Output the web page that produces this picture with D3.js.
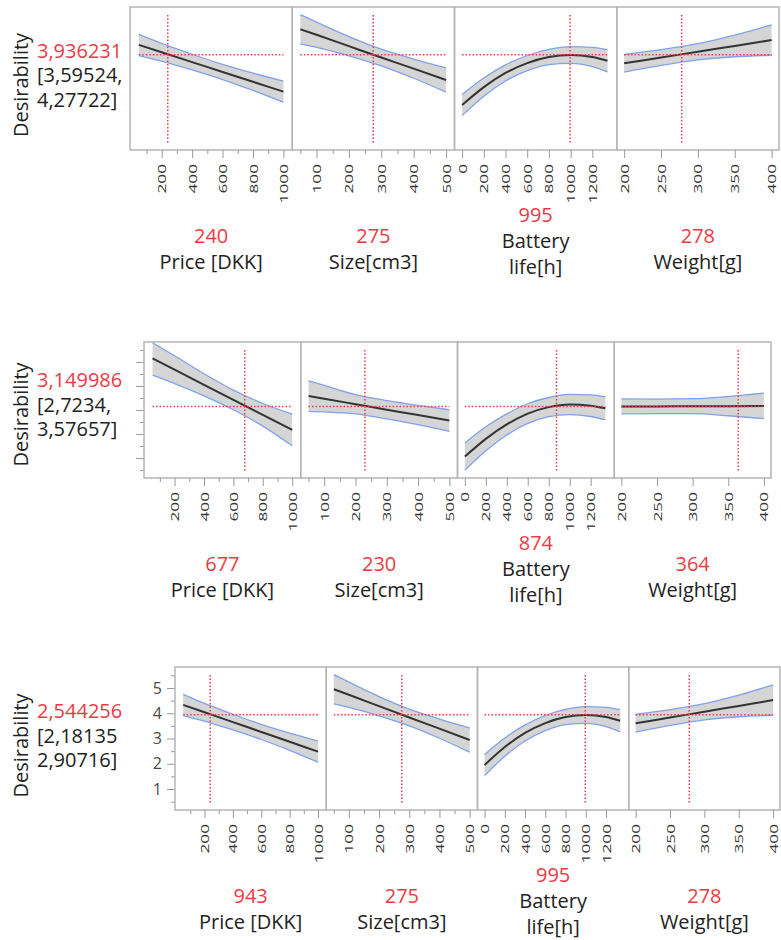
<!DOCTYPE html>
<html>
<head>
<meta charset="utf-8">
<script src="https://cdn.jsdelivr.net/npm/d3@7"></script>
<style>
  body { margin: 0; background: #fff; }
  text { font-family: "Open Sans", sans-serif; }
</style>
</head>
<body>
<svg></svg>
<script>

const factorNames = [["Price [DKK]"], ["Size[cm3]"], ["Battery", "life[h]"], ["Weight[g]"]];

// grid of factor settings where the curves were read
const priceX = [50, 200, 400, 600, 800, 1000];
const sizeX = [50, 100, 200, 300, 400, 500];
const batteryX = [0, 200, 400, 600, 800, 1000, 1200, 1340];
const weightX = [200, 250, 300, 350, 400];

// x extents of each factor panel
const priceDomain = [-8, 1058];
const sizeDomain = [25, 526];
const batteryDomain = [-70, 1425];
const weightDomain = [190, 410];
const yDomain = [0.17, 5.83];

// tick labels
const priceTicks = [200, 400, 600, 800, 1000];
const priceMinor = [100, 300, 500, 700, 900];
const sizeTicks = [100, 200, 300, 400, 500];
const sizeMinor = [50, 150, 250, 350, 450];
const batteryTicks = [0, 200, 400, 600, 800, 1000, 1200];
const weightTicks = [200, 250, 300, 350, 400];
const yTicks = [1, 2, 3, 4, 5];
const yMinor = [0.5, 1.5, 2.5, 3.5, 4.5, 5.5];

// profile A (rows 1 and 3)
const priceFitA = [4.33, 4.04, 3.65, 3.26, 2.87, 2.48];
const priceLoA = [3.91, 3.69, 3.34, 2.96, 2.53, 2.06];
const priceHiA = [4.75, 4.39, 3.96, 3.56, 3.21, 2.90];
const sizeFitA = [4.95, 4.73, 4.28, 3.83, 3.39, 2.94];
const sizeLoA = [4.37, 4.23, 3.90, 3.50, 3.01, 2.46];
const sizeHiA = [5.53, 5.23, 4.66, 4.16, 3.77, 3.42];
const batteryFitA = [1.95, 2.66, 3.22, 3.61, 3.85, 3.93, 3.85, 3.70];
const batteryLoA = [1.53, 2.30, 2.90, 3.31, 3.55, 3.60, 3.47, 3.26];
const batteryHiA = [2.37, 3.02, 3.54, 3.91, 4.15, 4.26, 4.23, 4.14];
const weightFitA = [3.60, 3.83, 4.06, 4.29, 4.52];
const weightLoA = [3.25, 3.52, 3.74, 3.86, 3.92];
const weightHiA = [3.95, 4.14, 4.38, 4.72, 5.12];

// profile B (row 2)
const priceFitB = [5.15, 4.68, 4.05, 3.42, 2.80, 2.17];
const priceLoB = [4.45, 4.10, 3.59, 3.01, 2.33, 1.51];
const priceHiB = [5.80, 5.26, 4.51, 3.83, 3.27, 2.83];
const sizeFitB = [3.58, 3.47, 3.24, 3.01, 2.79, 2.56];
const sizeLoB = [2.94, 2.92, 2.84, 2.63, 2.39, 2.11];
const sizeHiB = [4.22, 4.02, 3.64, 3.39, 3.19, 3.01];
const batteryFitB = [1.06, 1.80, 2.40, 2.85, 3.12, 3.23, 3.18, 3.07];
const batteryLoB = [0.49, 1.30, 1.96, 2.44, 2.72, 2.81, 2.73, 2.59];
const batteryHiB = [1.63, 2.30, 2.84, 3.26, 3.52, 3.65, 3.63, 3.55];
const weightFitB = [3.15, 3.15, 3.16, 3.16, 3.17];
const weightLoB = [2.84, 2.85, 2.85, 2.76, 2.64];
const weightHiB = [3.46, 3.45, 3.47, 3.56, 3.70];

// current settings (drawn crosshair) and the texts shown
const currentA = [240, 275, 995, 278];
const currentB = [677, 230, 874, 364];
const currentText1 = ["240", "275", "995", "278"];
const currentText2 = ["677", "230", "874", "364"];
const currentText3 = ["943", "275", "995", "278"];
const predA = 3.936231;
const predB = 3.149986;
const predText1 = ["3,936231", "[3,59524,", "4,27722]"];
const predText2 = ["3,149986", "[2,7234,", "3,57657]"];
const predText3 = ["2,544256", "[2,18135", "2,90716]"];

// ---- assemble ----
const factorX = [priceX, sizeX, batteryX, weightX];
const factorDomains = [priceDomain, sizeDomain, batteryDomain, weightDomain];
const factorTicks = [priceTicks, sizeTicks, batteryTicks, weightTicks];
const factorMinor = [priceMinor, sizeMinor, [], []];

const profileA = {
  fit: [priceFitA, sizeFitA, batteryFitA, weightFitA],
  lo: [priceLoA, sizeLoA, batteryLoA, weightLoA],
  hi: [priceHiA, sizeHiA, batteryHiA, weightHiA],
  cur: currentA, pred: predA
};
const profileB = {
  fit: [priceFitB, sizeFitB, batteryFitB, weightFitB],
  lo: [priceLoB, sizeLoB, batteryLoB, weightLoB],
  hi: [priceHiB, sizeHiB, batteryHiB, weightHiB],
  cur: currentB, pred: predB
};

const rows = [
  {profile: profileA, curText: currentText1, predText: predText1,
   left: 130, right: 779, top: 7, bottom: 150, yAxis: "none", textMid: 82},
  {profile: profileB, curText: currentText2, predText: predText2,
   left: 144, right: 771, top: 342, bottom: 478, yAxis: "ticks", textMid: 411.5},
  {profile: profileA, curText: currentText3, predText: predText3,
   left: 175, right: 780, top: 667, bottom: 810, yAxis: "labels", textMid: 742.5}
];

const svg = d3.select("svg")
    .attr("width", 781)
    .attr("height", 940);

const red = "#ec3b45";

rows.forEach(row => {
  const p = row.profile;
  const g = svg.append("g");

  const y = d3.scaleLinear().domain(yDomain).range([row.bottom, row.top]);
  const band = d3.scaleBand().domain(d3.range(4)).range([row.left, row.right]);

  // left block: Desirability + prediction and interval
  g.append("text")
      .attr("transform", "translate(28," + (row.textMid + 3) + ") rotate(-90)")
      .attr("text-anchor", "middle")
      .attr("font-size", 20)
      .attr("fill", "#222")
      .text("Desirability");

  row.predText.forEach((t, k) => {
    g.append("text")
        .attr("x", 37)
        .attr("y", row.textMid + (k - 1) * 24.5)
        .attr("font-size", 20)
        .attr("fill", k === 0 ? red : "#222")
        .text(t);
  });

  // y axis for rows 2 and 3
  if (row.yAxis !== "none") {
    g.append("g")
        .attr("transform", "translate(" + row.left + ",0)")
        .call(d3.axisLeft(y).tickValues(yMinor).tickSize(4).tickFormat(""))
        .call(a => a.select(".domain").remove())
        .attr("color", "#9a9a9a");
    const ya = g.append("g")
        .attr("transform", "translate(" + row.left + ",0)")
        .call(d3.axisLeft(y).tickValues(yTicks).tickSize(8).tickPadding(5)
          .tickFormat(row.yAxis === "labels" ? d3.format("d") : ""))
        .call(a => a.select(".domain").remove())
        .attr("color", "#9a9a9a");
    ya.selectAll("text")
        .attr("font-size", 16)
        .attr("fill", "#4a4a4a");
  }

  factorX.forEach((xs, i) => {
    const x0 = band(i), x1 = band(i) + band.bandwidth();
    const x = d3.scaleLinear().domain(factorDomains[i]).range([x0, x1]);
    const pts = xs.map((v, k) => ({x: v, fit: p.fit[i][k], lo: p.lo[i][k], hi: p.hi[i][k]}));

    // confidence band
    g.append("path")
        .datum(pts)
        .attr("d", d3.area().x(d => x(d.x)).y0(d => y(d.lo)).y1(d => y(d.hi)).curve(d3.curveMonotoneX))
        .attr("fill", "#d5d5d5");

    ["lo", "hi"].forEach(key => {
      g.append("path")
          .datum(pts)
          .attr("d", d3.line().x(d => x(d.x)).y(d => y(d[key])).curve(d3.curveMonotoneX))
          .attr("fill", "none")
          .attr("stroke", "#7fa2ea")
          .attr("stroke-width", 1.3);
    });

    // prediction trace
    g.append("path")
        .datum(pts)
        .attr("d", d3.line().x(d => x(d.x)).y(d => y(d.fit)).curve(d3.curveMonotoneX))
        .attr("fill", "none")
        .attr("stroke", "#333")
        .attr("stroke-width", 2);

    // crosshair
    g.append("line")
        .attr("x1", x(xs[0])).attr("x2", x(xs[xs.length - 1]))
        .attr("y1", y(p.pred)).attr("y2", y(p.pred))
        .attr("stroke", red)
        .attr("stroke-width", 1.5)
        .attr("stroke-dasharray", "1.5,2");
    g.append("line")
        .attr("x1", x(p.cur[i])).attr("x2", x(p.cur[i]))
        .attr("y1", row.top + 8).attr("y2", row.bottom - 7)
        .attr("stroke", red)
        .attr("stroke-width", 1.5)
        .attr("stroke-dasharray", "1.5,2");

    // panel frame
    g.append("rect")
        .attr("x", x0).attr("y", row.top)
        .attr("width", x1 - x0).attr("height", row.bottom - row.top)
        .attr("fill", "none")
        .attr("stroke", "#b5b5b5")
        .attr("stroke-width", 1.5);

    // x axis, rotated labels
    if (factorMinor[i].length) {
      g.append("g")
          .attr("transform", "translate(0," + row.bottom + ")")
          .call(d3.axisBottom(x).tickValues(factorMinor[i]).tickSize(4).tickFormat(""))
          .call(a => a.select(".domain").remove())
          .attr("color", "#9a9a9a");
    }
    const xa = g.append("g")
        .attr("transform", "translate(0," + row.bottom + ")")
        .call(d3.axisBottom(x).tickValues(factorTicks[i]).tickSize(8).tickFormat(d3.format("d")))
        .call(a => a.select(".domain").remove())
        .attr("color", "#9a9a9a");
    xa.selectAll("text")
        .attr("x", 0).attr("y", 0).attr("dy", "0.35em")
        .attr("transform", "translate(0,14) rotate(-90) scale(1.5,1)")
        .attr("text-anchor", "end")
        .attr("font-size", 11.5)
        .attr("fill", "#333");

    // factor labels
    const cx = (x0 + x1) / 2;
    const names = factorNames[i];
    const base = names.length > 1 ? row.bottom + 72 : row.bottom + 93;
    g.append("text")
        .attr("x", cx).attr("y", base)
        .attr("text-anchor", "middle")
        .attr("font-size", 20)
        .attr("fill", red)
        .text(row.curText[i]);
    names.forEach((n, k) => {
      g.append("text")
          .attr("x", cx).attr("y", base + 26 * (k + 1))
          .attr("text-anchor", "middle")
          .attr("font-size", 20)
          .attr("fill", "#222")
          .text(n);
    });
  });
});
</script>
</body>
</html>
